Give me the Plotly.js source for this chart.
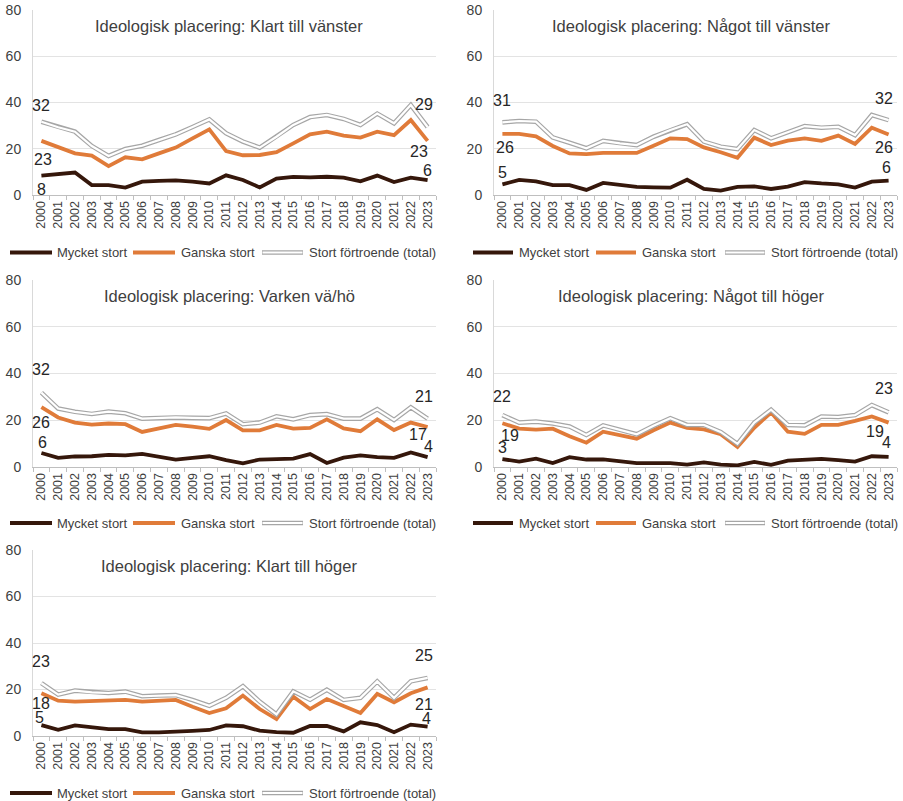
<!DOCTYPE html>
<html>
<head>
<meta charset="utf-8">
<script src="https://cdn.plot.ly/plotly-3.0.1.min.js"></script>
<style>html,body{margin:0;padding:0;background:#fff;}#chart{width:903px;height:801px;}</style>
</head>
<body>
<div id="chart"></div>
<script>
// ---------- DATA ----------
const years = ['2000','2001','2002','2003','2004','2005','2006','2007','2008','2009','2010','2011',
               '2012','2013','2014','2015','2016','2017','2018','2019','2020','2021','2022','2023'];

const seriesNames = ['Mycket stort', 'Ganska stort', 'Stort förtroende (total)'];

const panelTitles = [
  'Ideologisk placering: Klart till vänster',
  'Ideologisk placering: Något till vänster',
  'Ideologisk placering: Varken vä/hö',
  'Ideologisk placering: Något till höger',
  'Ideologisk placering: Klart till höger'
];

// Klart till vänster
const kvMycket = [8.4,8.9,9.7,4.3,4.3,3.2,5.8,6.1,6.3,5.8,5.0,8.5,6.5,3.3,7.1,7.8,7.6,7.9,7.5,5.9,8.4,5.6,7.5,6.4];
const kvGanska = [23.4,20.5,18.0,17.0,12.5,16.3,15.4,18.0,20.5,24.5,28.4,19.0,17.2,17.3,18.5,22.3,26.2,27.4,25.7,24.8,27.4,25.9,32.4,23.4];
const kvTotal  = [31.7,29.3,27.4,21.2,16.9,19.9,21.3,23.8,26.2,29.4,32.7,26.7,23.1,20.5,25.2,30.3,33.7,34.6,32.9,30.3,35.2,31.0,38.9,29.4];

// Något till vänster
const ntvMycket = [4.6,6.5,5.9,4.3,4.3,2.2,5.2,4.3,3.5,3.3,3.2,6.6,2.6,1.9,3.5,3.7,2.6,3.6,5.6,5.0,4.6,3.2,5.8,6.2];
const ntvGanska = [26.4,26.4,25.4,21.2,18.0,17.7,18.2,18.2,18.2,21.3,24.5,24.2,20.6,18.5,16.1,24.8,21.6,23.5,24.5,23.4,25.7,22.1,29.1,26.2];
const ntvTotal  = [31.4,32.0,31.7,24.9,22.6,20.2,23.4,22.3,21.6,25.2,28.1,30.6,23.1,20.9,19.9,28.1,24.5,27.0,29.8,29.1,29.5,25.9,34.6,32.4];

// Varken vä/hö
const vMycket = [6.0,3.9,4.5,4.6,5.2,5.0,5.6,4.3,3.2,3.9,4.6,2.9,1.6,3.2,3.5,3.6,5.5,1.7,4.0,5.0,4.2,3.9,6.2,4.2];
const vGanska = [25.6,21.2,19.0,18.1,18.6,18.3,15.0,16.5,18.0,17.3,16.3,20.1,15.7,15.7,18.0,16.4,16.7,20.4,16.5,15.3,20.4,15.8,19.0,17.1];
const vTotal  = [31.8,25.0,23.6,22.7,23.7,23.0,20.7,21.0,21.2,21.0,20.9,22.9,18.3,19.0,21.7,20.4,22.2,22.6,20.7,20.7,24.7,20.1,25.5,20.7];

// Något till höger
const nthMycket = [3.4,2.3,3.6,1.7,4.2,3.2,3.3,2.6,1.7,1.7,1.7,1.0,2.0,1.0,0.7,2.2,0.9,2.7,3.2,3.5,2.9,2.3,4.6,4.3];
const nthGanska = [18.7,16.4,16.0,16.4,13.2,10.4,15.1,13.7,12.1,15.7,19.0,16.7,16.1,14.0,8.6,16.8,23.3,15.1,14.2,18.0,18.0,19.7,21.6,19.0];
const nthTotal  = [22.2,19.0,19.4,18.6,17.3,13.7,17.8,15.8,14.0,17.6,20.9,18.0,18.0,15.0,9.9,19.0,24.5,18.0,17.8,21.6,21.4,22.2,26.5,23.4];

// Klart till höger
const kthMycket = [4.7,2.7,4.6,4.0,3.0,3.0,1.6,1.6,1.7,2.2,2.6,4.6,4.2,2.3,1.7,1.4,4.3,4.3,2.0,5.9,4.7,1.6,4.9,4.0];
const kthGanska = [18.4,15.2,14.8,14.9,15.2,15.5,14.8,15.2,15.5,12.6,9.9,11.9,17.4,11.6,7.3,16.9,11.6,15.9,13.1,9.9,18.1,14.5,18.4,20.9];
const kthTotal  = [22.7,17.8,19.5,18.8,18.5,19.1,17.1,17.4,17.6,15.5,13.0,16.4,21.4,14.8,9.3,19.2,15.6,19.9,15.5,16.4,23.5,16.4,23.5,25.0];

const panels = [
  [kvMycket, kvGanska, kvTotal],
  [ntvMycket, ntvGanska, ntvTotal],
  [vMycket, vGanska, vTotal],
  [nthMycket, nthGanska, nthTotal],
  [kthMycket, kthGanska, kthTotal]
];

// ---------- STYLE / LAYOUT CONFIG ----------
const W = 903, H = 801;
const FONT = 'Liberation Sans, Arial, sans-serif';
const TXT = '#404040';
const colors = ['#35170b', '#e07b39'];
const colX = [[33, 436], [494, 897]];
const rowY = [[10, 195], [280, 467], [550, 736]];
const titleY = [26, 296, 566];
const titleX = [229, 691];
const legendY = [252.5, 523, 793];
const legendItems = [ // [lineStart, lineEnd, textStart] per item per column
  [[10, 52, 55], [133, 175, 179], [262, 303, 307]],
  [[473, 513, 517], [596, 636, 640], [725, 765, 769]]
];
// label offsets [series] -> [xshift, yshift] for first and last points
const labelOffsets = [
  {first: [[0,-14],[2,-19],[0,16]], last: [[0,10],[-9,-11],[-4,23]]},
  {first: [[0,12],[3,-14],[0,22]],  last: [[-2,13],[-5,-13],[-5,22]]},
  {first: [[1,10],[0,-15],[0,23]],  last: [[1,11],[-10,-7],[-4,22]]},
  {first: [[0,12],[8,-12],[0,19]],  last: [[-2,14],[-14,-9],[-5,24]]},
  {first: [[-2,8],[0,-10],[0,22]],  last: [[-1,8],[-4,-17],[-4,22]]}
];

const px = x => x / W;
const py = y => 1 - y / H;

const traces = [];
const layout = {
  width: W, height: H,
  margin: {l: 0, r: 0, t: 0, b: 0},
  paper_bgcolor: '#fff', plot_bgcolor: '#fff',
  showlegend: false,
  font: {family: FONT, color: TXT},
  annotations: [], shapes: []
};

panels.forEach((p, k) => {
  const col = k % 2, row = Math.floor(k / 2);
  const n = k === 0 ? '' : String(k + 1);
  const xa = 'x' + n, ya = 'y' + n;
  layout['xaxis' + n] = {
    domain: [px(colX[col][0]), px(colX[col][1])],
    anchor: ya, type: 'category', categoryorder: 'array', categoryarray: years,
    range: [-0.5, years.length - 0.5],
    tickangle: -90, tickfont: {size: 12.5, color: TXT, family: FONT},
    ticks: 'outside', tickson: 'boundaries', ticklen: 4, tickcolor: '#bfbfbf',
    showline: true, linecolor: '#bfbfbf', linewidth: 1,
    showgrid: false, zeroline: false, fixedrange: true
  };
  layout['yaxis' + n] = {
    domain: [py(rowY[row][1]), py(rowY[row][0])],
    anchor: xa, range: [0, 80], tick0: 0, dtick: 20,
    tickfont: {size: 14, color: TXT, family: FONT},
    showgrid: true, gridcolor: '#e3e3e3', gridwidth: 1,
    showline: true, linecolor: '#d9d9d9', zeroline: false,
    ticks: '', ticklabelstandoff: 8, fixedrange: true
  };

  // series lines
  traces.push({x: years, y: p[0], xaxis: xa, yaxis: ya, mode: 'lines', name: seriesNames[0],
               line: {color: colors[0], width: 3.8}, hoverinfo: 'skip'});
  traces.push({x: years, y: p[1], xaxis: xa, yaxis: ya, mode: 'lines', name: seriesNames[1],
               line: {color: colors[1], width: 3.8}, hoverinfo: 'skip'});
  traces.push({x: years, y: p[2], xaxis: xa, yaxis: ya, mode: 'lines', name: seriesNames[2],
               line: {color: '#a6a6a6', width: 4.6}, hoverinfo: 'skip'});
  traces.push({x: years, y: p[2], xaxis: xa, yaxis: ya, mode: 'lines', name: seriesNames[2],
               line: {color: '#ffffff', width: 2.2}, hoverinfo: 'skip'});

  // data labels: first and last (x given as category index)
  const last = years.length - 1;
  [0, 1, 2].forEach(s => {
    [['first', 0], ['last', last]].forEach(([key, idx]) => {
      const off = labelOffsets[k][key][s];
      layout.annotations.push({
        x: idx, y: p[s][idx], xref: xa, yref: ya,
        text: String(Math.round(p[s][idx])), showarrow: false,
        xanchor: 'center', yanchor: 'middle', xshift: off[0], yshift: off[1],
        font: {size: 16, color: '#262626', family: FONT}
      });
    });
  });

  // panel title
  layout.annotations.push({
    x: px(titleX[col]), y: py(titleY[row]), xref: 'paper', yref: 'paper',
    text: panelTitles[k], showarrow: false, xanchor: 'center', yanchor: 'middle',
    font: {size: 16.5, color: TXT, family: FONT}
  });

  // legend
  const ly = py(legendY[row]);
  legendItems[col].forEach((it, s) => {
    if (s < 2) {
      layout.shapes.push({type: 'line', xref: 'paper', yref: 'paper',
        x0: px(it[0]), x1: px(it[1]), y0: ly, y1: ly, line: {color: colors[s], width: 4}});
    } else {
      layout.shapes.push({type: 'line', xref: 'paper', yref: 'paper',
        x0: px(it[0]), x1: px(it[1]), y0: ly, y1: ly, line: {color: '#a6a6a6', width: 4.6}});
      layout.shapes.push({type: 'line', xref: 'paper', yref: 'paper',
        x0: px(it[0] + 0.5), x1: px(it[1] - 0.5), y0: ly, y1: ly, line: {color: '#ffffff', width: 2.2}});
    }
    layout.annotations.push({
      x: px(it[2]), y: ly, xref: 'paper', yref: 'paper', text: seriesNames[s],
      showarrow: false, xanchor: 'left', yanchor: 'middle',
      font: {size: 13, color: TXT, family: FONT}
    });
  });
});

Plotly.newPlot('chart', traces, layout, {staticPlot: true, displayModeBar: false});
</script>
</body>
</html>
